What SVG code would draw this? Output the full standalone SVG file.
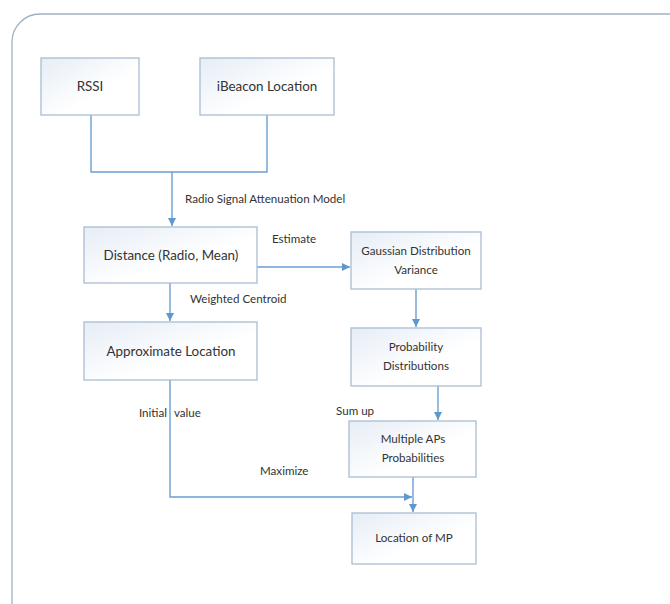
<svg xmlns="http://www.w3.org/2000/svg" width="670" height="604" viewBox="0 0 670 604">
<defs>
<linearGradient id="g" x1="0" y1="0" x2="1" y2="1">
<stop offset="0" stop-color="#e6edf6"/>
<stop offset="0.6" stop-color="#ffffff"/>
</linearGradient>
<marker id="ah" markerWidth="10" markerHeight="10" refX="9" refY="5" orient="auto" markerUnits="userSpaceOnUse">
<path d="M1,1 L9,5 L1,9 Z" fill="#5f98cf"/>
</marker>
<style>
.box{fill:url(#g);stroke:#a9bed3;stroke-width:1.3}
.t{font-family:Lato,"Open Sans","Liberation Sans",sans-serif;fill:#333;text-anchor:middle}
.big{font-size:13.4px}
.sm{font-size:11.6px}
.lbl{font-family:Lato,"Open Sans","Liberation Sans",sans-serif;fill:#333;font-size:11.6px}
.c{fill:none;stroke:#6a9fd2;stroke-width:1.4}
</style>
</defs>
<rect x="0" y="0" width="670" height="604" fill="#ffffff"/>
<rect x="12" y="14" width="700" height="640" rx="28" ry="28" fill="none" stroke="#9fb2c4" stroke-width="1.3"/>

<g id="connectors">
<path class="c" d="M91,115 V172 H267 V115"/>
<path class="c" d="M172,172 V226" marker-end="url(#ah)"/>
<path class="c" d="M257,267 H350" marker-end="url(#ah)"/>
<path class="c" d="M416,289 V327" marker-end="url(#ah)"/>
<path class="c" d="M170,283 V321" marker-end="url(#ah)"/>
<path class="c" d="M438,386 V420" marker-end="url(#ah)"/>
<path class="c" d="M413,477 V512" marker-end="url(#ah)"/>
<path class="c" d="M170,380 V497 H412" marker-end="url(#ah)"/>
<text class="lbl" x="185" y="203">Radio Signal Attenuation Model</text>
<text class="lbl" x="272" y="243">Estimate</text>
<text class="lbl" x="190" y="303">Weighted Centroid</text>
<text class="lbl" x="167" y="417" text-anchor="end">Initial</text>
<text class="lbl" x="174" y="417">value</text>
<text class="lbl" x="336" y="415">Sum up</text>
<text class="lbl" x="260" y="475">Maximize</text>
</g>

<g id="rssi">
<rect class="box" x="41" y="58" width="98" height="57"/>
<text class="t big" x="90" y="91">RSSI</text>
</g>
<g id="ibeacon">
<rect class="box" x="200" y="58" width="134" height="57"/>
<text class="t big" x="267" y="91">iBeacon Location</text>
</g>
<g id="distance">
<rect class="box" x="84" y="227" width="173" height="56"/>
<text class="t big" x="171" y="260">Distance (Radio, Mean)</text>
</g>
<g id="approx">
<rect class="box" x="84" y="322" width="173" height="58"/>
<text class="t big" x="171" y="356">Approximate Location</text>
</g>
<g id="gaussian">
<rect class="box" x="351" y="232" width="130" height="57"/>
<text class="t sm" x="416" y="255">Gaussian Distribution</text>
<text class="t sm" x="416" y="274">Variance</text>
</g>
<g id="probability">
<rect class="box" x="351" y="328" width="130" height="58"/>
<text class="t sm" x="416" y="351">Probability</text>
<text class="t sm" x="416" y="370">Distributions</text>
</g>
<g id="multiple">
<rect class="box" x="349" y="421" width="127" height="56"/>
<text class="t sm" x="413" y="443">Multiple APs</text>
<text class="t sm" x="413" y="462">Probabilities</text>
</g>
<g id="location">
<rect class="box" x="352" y="513" width="124" height="51"/>
<text class="t sm" x="414" y="542">Location of MP</text>
</g>
</svg>
